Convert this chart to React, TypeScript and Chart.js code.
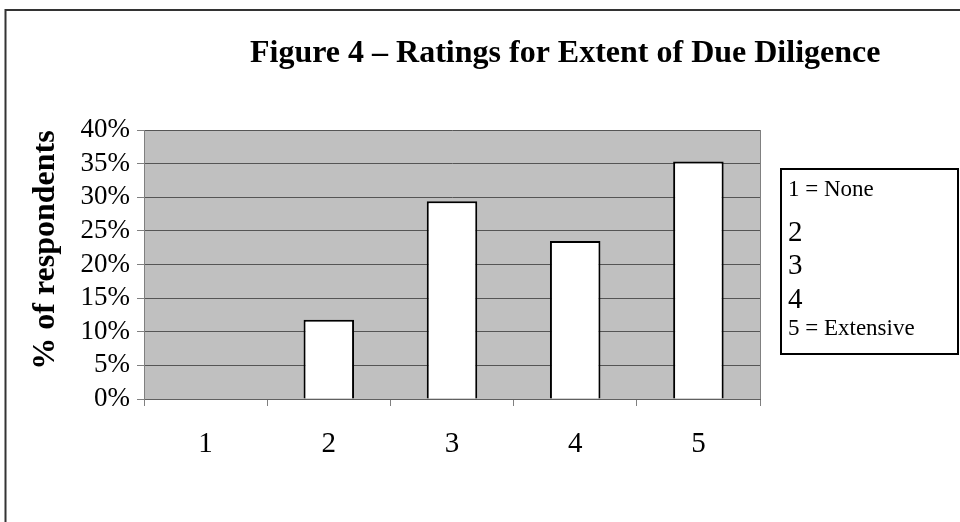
import React, { useEffect, useRef } from "react";
import { Chart, registerables } from "chart.js";

Chart.register(...registerables);

const categories: string[] = ["1", "2", "3", "4", "5"];
const percentValues: number[] = [0, 11.8, 29.4, 23.5, 35.3];
const yTickStep = 5;
const yMax = 40;
const legendLines: string[] = ["1 = None", "2", "3", "4", "5 = Extensive"];
const titleText = "Figure 4 \u2013 Ratings for Extent of Due Diligence";
const yAxisTitle = "% of respondents";

const FAMILY = '"Liberation Serif", "Times New Roman", serif';

const decorPlugin = {
  id: "decor",
  beforeDraw(chart: any) {
    const { ctx, chartArea } = chart;
    ctx.save();
    ctx.fillStyle = "#ffffff";
    ctx.fillRect(0, 0, chart.width, chart.height);
    ctx.fillStyle = "#c0c0c0";
    ctx.fillRect(chartArea.left, chartArea.top, chartArea.right - chartArea.left, chartArea.bottom - chartArea.top);
    ctx.restore();
  },
  afterDraw(chart: any) {
    const { ctx, chartArea } = chart;
    ctx.save();
    // right border of plot area
    ctx.strokeStyle = "#808080";
    ctx.lineWidth = 1;
    ctx.beginPath();
    ctx.moveTo(Math.round(chartArea.right) + 0.5, chartArea.top);
    ctx.lineTo(Math.round(chartArea.right) + 0.5, chartArea.bottom);
    ctx.stroke();

    // title
    ctx.fillStyle = "#000";
    ctx.font = `bold 32px ${FAMILY}`;
    ctx.textAlign = "left";
    ctx.textBaseline = "alphabetic";
    ctx.fillText(titleText, 250, 62);

    // y axis title
    ctx.save();
    ctx.translate(54, 250);
    ctx.rotate(-Math.PI / 2);
    ctx.textAlign = "center";
    ctx.font = `bold 32px ${FAMILY}`;
    ctx.fillText(yAxisTitle, 0, 0);
    ctx.restore();

    // legend box
    ctx.strokeStyle = "#000";
    ctx.lineWidth = 2;
    ctx.strokeRect(781, 169, 177, 185);
    const sizes = [23, 29, 29, 29, 23];
    const baselines = [196, 241, 273.5, 307.5, 334.5];
    ctx.textAlign = "left";
    legendLines.forEach((line, i) => {
      ctx.font = `${sizes[i]}px ${FAMILY}`;
      ctx.fillText(line, 788, baselines[i]);
    });

    // outer frame (top and left)
    ctx.strokeStyle = "#333";
    ctx.lineWidth = 2;
    ctx.beginPath();
    ctx.moveTo(960, 10);
    ctx.lineTo(5.5, 10);
    ctx.lineTo(5.5, 522);
    ctx.stroke();
    ctx.restore();
  },
};

export default function App() {
  const canvasRef = useRef<HTMLCanvasElement | null>(null);

  useEffect(() => {
    if (!canvasRef.current) return;
    const chart = new Chart(canvasRef.current, {
      type: "bar",
      data: {
        labels: categories,
        datasets: [
          {
            data: percentValues,
            backgroundColor: "#ffffff",
            borderColor: "#000000",
            borderWidth: 2,
            barPercentage: 0.41,
            categoryPercentage: 1,
          },
        ],
      },
      options: {
        animation: false,
        responsive: false,
        maintainAspectRatio: false,
        layout: { padding: { left: 0, top: 130, right: 200, bottom: 43 } },
        plugins: {
          legend: { display: false },
          title: { display: false },
          tooltip: { enabled: false },
        },
        scales: {
          x: {
            grid: {
              offset: true,
              drawOnChartArea: false,
              drawTicks: true,
              tickLength: 7,
              color: "#808080",
              lineWidth: 1,
            },
            border: { color: "#606060", width: 1 },
            ticks: {
              font: { family: FAMILY, size: 29 },
              color: "#000",
              padding: 21,
              maxRotation: 0,
              autoSkip: false,
            },
            afterFit: (s: any) => {
              s.height = 80;
            },
          },
          y: {
            min: 0,
            max: yMax,
            ticks: {
              stepSize: yTickStep,
              autoSkip: false,
              callback: (v: any) => `${v}%`,
              font: { family: FAMILY, size: 27 },
              color: "#000",
              padding: 7,
            },
            grid: {
              color: "#555555",
              lineWidth: 1,
              tickLength: 7,
              tickColor: "#808080",
            },
            border: { color: "#808080", width: 1 },
            afterFit: (s: any) => {
              s.width = 144;
            },
          },
        },
      },
      plugins: [decorPlugin],
    } as any);
    return () => chart.destroy();
  }, []);

  return (
    <div style={{ position: "fixed", left: 0, top: 0, width: 960, height: 522, background: "#fff" }}>
      <canvas ref={canvasRef} width={960} height={522} style={{ display: "block" }} />
    </div>
  );
}
